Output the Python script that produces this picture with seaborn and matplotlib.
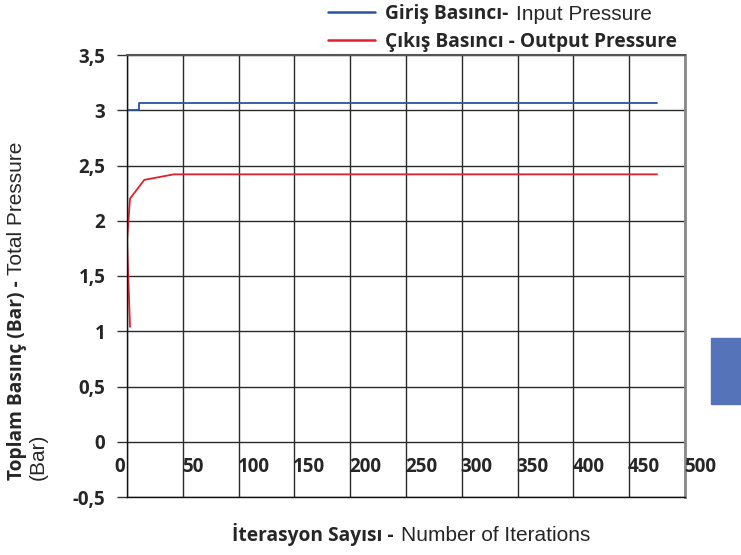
"""
Giris / cikis basinci - iterasyon grafigi
"""
import numpy as np
import pandas as pd
import matplotlib
matplotlib.use('Agg')
import matplotlib.pyplot as plt
import seaborn as sns
from matplotlib.patches import Rectangle

# data
input_iter = [0, 10.7, 10.7, 475]
input_pressure = [3.0, 3.0, 3.07, 3.07]

output_iter = [2.7, 0.0, 2.7, 15.5, 42, 475]
output_pressure = [1.04, 1.82, 2.2, 2.37, 2.42, 2.42]

x_ticks = [0, 50, 100, 150, 200, 250, 300, 350, 400, 450, 500]
y_ticks = [-0.5, 0, 0.5, 1, 1.5, 2, 2.5, 3, 3.5]
y_tick_labels = ['-0,5', '0', '0,5', '1', '1,5', '2', '2,5', '3', '3,5']

BOLD = 'Open Sans'
REG = 'Liberation Sans'
BOLD_SIZE = 13.8
REG_SIZE = 15
BLUE = '#2b52a3'
RED = '#e0202c'

sns.set_style('white')
plt.rcParams['font.family'] = [REG, 'DejaVu Sans']

W, H = 741, 555
fig = plt.figure(figsize=(W / 100, H / 100), dpi=100)
ax = fig.add_axes([127 / W, 1 - 497 / H, (685 - 127) / W, (497 - 55) / H])

df_in = pd.DataFrame({'iter': input_iter, 'p': input_pressure})
df_out = pd.DataFrame({'iter': output_iter, 'p': output_pressure})
sns.lineplot(data=df_in, x='iter', y='p', ax=ax, sort=False, estimator=None,
             color=BLUE, linewidth=1.3, label='Giriş Basıncı-')
sns.lineplot(data=df_out, x='iter', y='p', ax=ax, sort=False, estimator=None,
             color=RED, linewidth=1.3, label='Çıkış Basıncı - Output Pressure')

ax.set_xlim(0, 500)
ax.set_ylim(-0.5, 3.5)
ax.set_xticks(x_ticks)
ax.set_yticks(y_ticks)
ax.set_yticklabels(y_tick_labels, fontfamily=BOLD, fontweight='bold', fontsize=13.5)
ax.tick_params(axis='x', length=0, labelbottom=False)
ax.tick_params(axis='y', left=True, length=7.5, width=1, color='#333333', pad=8)
ax.grid(True, color='#2a2a2a', linewidth=1)
ax.set_xlabel('')
ax.set_ylabel('')

for side in ['left', 'bottom']:
    ax.spines[side].set_color('#111111')
    ax.spines[side].set_linewidth(1)
ax.spines['top'].set_color('#555555')
ax.spines['top'].set_linewidth(1.5)
ax.spines['right'].set_color('#888888')
ax.spines['right'].set_linewidth(2)

# x tick labels sit between the 0 and -0,5 lines
for t in x_ticks:
    if t == 0:
        ax.text(-2, -0.23, str(t), ha='right', va='center', fontfamily=BOLD,
                fontweight='bold', fontsize=13.5)
    else:
        ax.text(t - 1, -0.23, str(t), ha='left', va='center', fontfamily=BOLD,
                fontweight='bold', fontsize=13.5)

# legend at the top
leg = ax.legend(loc='center left', bbox_to_anchor=(328 / W, 1 - 28 / H),
                bbox_transform=fig.transFigure, frameon=False, borderpad=0,
                borderaxespad=0, handlelength=2.45, handletextpad=0.5,
                labelspacing=0.4, prop={'family': BOLD, 'weight': 'bold', 'size': BOLD_SIZE})
for line in leg.get_lines():
    line.set_linewidth(1.8)
ax.annotate('Input Pressure', xy=(1, 0), xycoords=leg.get_texts()[0],
            xytext=(6, 0), textcoords='offset points', ha='left', va='bottom',
            fontfamily=REG, fontsize=REG_SIZE)

fig.canvas.draw()
renderer = fig.canvas.get_renderer()

# y label, two lines, mixed weights
t1 = fig.text(22 / W, 1 - 480 / H, 'Toplam Basınç (Bar) -', rotation=90,
              rotation_mode='anchor', ha='left', va='baseline',
              fontfamily=BOLD, fontweight='bold', fontsize=BOLD_SIZE)
bb = t1.get_window_extent(renderer)
fig.text(22 / W, (bb.y1 + 5) / H, 'Total Pressure', rotation=90,
         rotation_mode='anchor', ha='left', va='baseline', fontfamily=REG, fontsize=REG_SIZE)
fig.text(44 / W, 1 - 480 / H, '(Bar)', rotation=90, rotation_mode='anchor',
         ha='left', va='baseline', fontfamily=REG, fontsize=REG_SIZE)

# x label
t2 = fig.text(232 / W, 1 - 541 / H, 'İterasyon Sayısı -', ha='left', va='baseline',
              fontfamily=BOLD, fontweight='bold', fontsize=BOLD_SIZE)
bb = t2.get_window_extent(renderer)
fig.text((bb.x1 + 7) / W, 1 - 541 / H, 'Number of Iterations', ha='left',
         va='baseline', fontfamily=REG, fontsize=REG_SIZE)

# stray blue block at the right edge of the reference
fig.patches.append(Rectangle((711 / W, 1 - 404 / H), 30 / W, 66 / H,
                             transform=fig.transFigure, color='#5573b8'))

fig.savefig('out.png', dpi=100)
